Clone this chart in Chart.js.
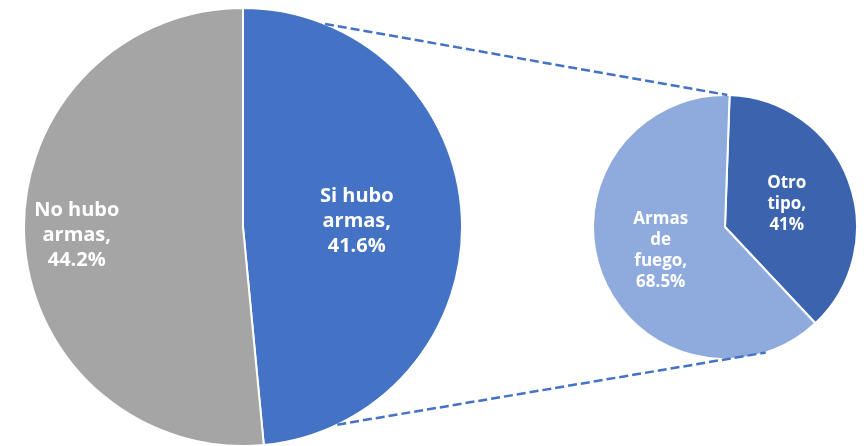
<!DOCTYPE html>
<html>
<head>
<meta charset="utf-8">
<script src="https://cdn.jsdelivr.net/npm/chart.js@4.4.0/dist/chart.umd.min.js"></script>
<style>
  html, body { margin: 0; padding: 0; background: #fff; overflow: hidden; }
  #wrap { position: relative; width: 864px; height: 446px; }
  canvas { position: absolute; }
  #mainPie { left: 23px; top: 7px; }
  #subPie { left: 592px; top: 94px; }
  #links { left: 0; top: 0; pointer-events: none; }
</style>
</head>
<body>
<div id="wrap">
  <canvas id="mainPie" width="440" height="440"></canvas>
  <canvas id="subPie" width="266" height="266"></canvas>
  <canvas id="links" width="864" height="446"></canvas>
</div>
<script>
// ── Data ──────────────────────────────────────────────
const mainLabels = ["Si hubo armas", "No hubo armas"];
const mainValues = [41.6, 44.2];
const subLabels = ["Otro tipo", "Armas de fuego"];
const subValues = [41, 68.5];

// how each label breaks into lines inside its slice
const mainLines = [["Si hubo", "armas,"], ["No hubo", "armas,"]];
const subLines = [["Otro", "tipo,"], ["Armas", "de", "fuego,"]];

// ── Slice labels plugin ───────────────────────────────
const sliceLabels = {
  id: "sliceLabels",
  afterDatasetsDraw(chart, args, opts) {
    const ctx = chart.ctx;
    const meta = chart.getDatasetMeta(0);
    const values = chart.data.datasets[0].data;
    ctx.save();
    ctx.fillStyle = "#fff";
    ctx.font = "bold " + opts.size + "px 'Open Sans', Lato, sans-serif";
    ctx.textAlign = "center";
    ctx.textBaseline = "middle";
    meta.data.forEach((arc, i) => {
      const mid = (arc.startAngle + arc.endAngle) / 2;
      const r = arc.outerRadius * opts.radius[i];
      const x = arc.x + Math.cos(mid) * r;
      const y = arc.y + Math.sin(mid) * r;
      const lines = opts.lines[i].concat([values[i] + "%"]);
      const top = y - ((lines.length - 1) * opts.lineHeight) / 2;
      lines.forEach((t, k) => ctx.fillText(t, x, top + k * opts.lineHeight));
    });
    ctx.restore();
  }
};

// ── Charts ────────────────────────────────────────────
const mainChart = new Chart(document.getElementById("mainPie"), {
  type: "pie",
  data: {
    labels: mainLabels,
    datasets: [{
      data: mainValues,
      backgroundColor: ["#4472C4", "#A5A5A5"],
      borderColor: "#fff",
      borderWidth: 2,
      hoverOffset: 0
    }]
  },
  options: {
    responsive: false,
    animation: false,
    rotation: 0,
    events: [],
    plugins: {
      legend: { display: false },
      tooltip: { enabled: false },
      sliceLabels: { size: 20, lineHeight: 25, radius: [0.52, 0.76], lines: mainLines }
    }
  },
  plugins: [sliceLabels]
});

const subChart = new Chart(document.getElementById("subPie"), {
  type: "pie",
  data: {
    labels: subLabels,
    datasets: [{
      data: subValues,
      backgroundColor: ["#3C64AE", "#8FAADC"],
      borderColor: "#fff",
      borderWidth: 2,
      hoverOffset: 0
    }]
  },
  options: {
    responsive: false,
    animation: false,
    rotation: 2,
    events: [],
    plugins: {
      legend: { display: false },
      tooltip: { enabled: false },
      sliceLabels: { size: 17, lineHeight: 21, radius: [0.5, 0.52], lines: subLines }
    }
  },
  plugins: [sliceLabels]
});

// ── Connector lines ───────────────────────────────────
function pointOn(chart, canvasId, deg) {
  const arc = chart.getDatasetMeta(0).data[0];
  const el = document.getElementById(canvasId);
  const a = (deg - 90) * Math.PI / 180;
  return {
    x: el.offsetLeft + arc.x + Math.cos(a) * arc.outerRadius,
    y: el.offsetTop + arc.y + Math.sin(a) * arc.outerRadius
  };
}

const links = document.getElementById("links").getContext("2d");
links.strokeStyle = "#4472C4";
links.lineWidth = 2.5;
links.setLineDash([9, 4]);
[[22, 1], [154.5, 162]].forEach(([a, b]) => {
  const p = pointOn(mainChart, "mainPie", a);
  const q = pointOn(subChart, "subPie", b);
  links.beginPath();
  links.moveTo(p.x, p.y);
  links.lineTo(q.x, q.y);
  links.stroke();
});
</script>
</body>
</html>
